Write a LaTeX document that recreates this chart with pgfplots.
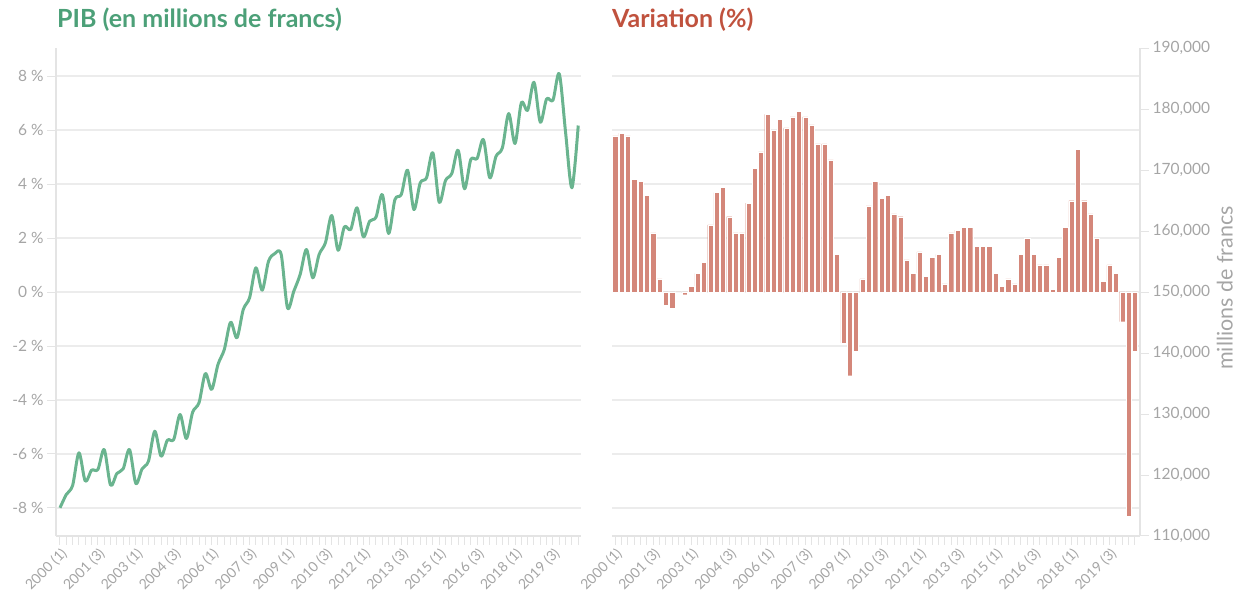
\documentclass[border=0pt]{standalone}
\usepackage{fontspec}
\setmainfont{Lato}
\usepackage{pgfplots}
\pgfplotsset{compat=1.18}
\usepackage{pgfplotstable}

\definecolor{linegreen}{RGB}{106,180,143}
\definecolor{titlegreen}{RGB}{76,160,120}
\definecolor{barred}{RGB}{212,135,122}
\definecolor{titlered}{RGB}{192,82,62}
\definecolor{txtgray}{RGB}{165,165,165}
\definecolor{gridgray}{RGB}{236,236,236}
\definecolor{axisgray}{RGB}{228,228,228}

\pgfplotstableread{
i F
0 114620
1 116800
2 118280
3 123640
4 118990
5 120790
6 120900
7 124180
8 118330
9 120250
10 121020
11 124180
12 118610
13 121020
14 122260
15 127180
16 123080
17 125710
18 125820
19 129920
20 125980
21 130330
22 131840
23 136640
24 134020
25 138120
26 140570
27 145050
28 142490
29 147130
30 149050
31 153970
32 150300
33 155050
34 156310
35 156150
36 147410
37 150130
38 152870
39 156970
40 152330
41 156150
42 158070
43 162540
44 156850
45 160690
46 160250
47 163800
48 159050
49 161610
50 162260
51 165980
52 159590
53 165160
54 165980
55 169970
56 163520
57 167900
58 168720
59 172820
60 164720
61 168280
62 169430
63 173250
64 166920
65 171720
66 171890
67 175000
68 168720
69 172260
70 173640
71 179260
72 174340
73 181020
74 179800
75 184390
76 177840
77 181670
78 181440
79 185770
80 176150
81 167080
82 177290
}\pibtable

\pgfplotstableread{
i v
0 5.78
1 5.88
2 5.78
3 4.18
4 4.09
5 3.58
6 2.19
7 0.49
8 -0.49
9 -0.59
10 0.0
11 -0.10
12 0.20
13 0.69
14 1.10
15 2.49
16 3.68
17 3.88
18 2.79
19 2.19
20 2.19
21 3.29
22 4.59
23 5.19
24 6.58
25 5.99
26 6.39
27 6.08
28 6.49
29 6.68
30 6.49
31 6.19
32 5.49
33 5.49
34 4.89
35 1.39
36 -1.88
37 -3.10
38 -2.19
39 0.49
40 3.19
41 4.09
42 3.48
43 3.58
44 2.89
45 2.79
46 1.19
47 0.69
48 1.49
49 0.59
50 1.29
51 1.39
52 0.30
53 2.19
54 2.29
55 2.39
56 2.39
57 1.69
58 1.69
59 1.69
60 0.69
61 0.20
62 0.49
63 0.30
64 1.39
65 1.99
66 1.39
67 1.00
68 1.00
69 0.10
70 1.29
71 2.39
72 3.38
73 5.28
74 3.38
75 2.89
76 1.99
77 0.39
78 1.00
79 0.69
80 -1.10
81 -8.30
82 -2.19
}\vartable

\pgfplotsset{
  panel/.style={
    scale only axis,
    height=488pt,
    anchor=south west,
    xtick={0,6,...,78},
    xticklabels={2000 (1),2001 (3),2003 (1),2004 (3),2006 (1),2007 (3),2009 (1),2010 (3),2012 (1),2013 (3),2015 (1),2016 (3),2018 (1),2019 (3)},
    minor xtick={0,1,...,82},
    x tick label style={rotate=45, anchor=north east, font=\fontsize{14}{14}\selectfont, text=txtgray, inner sep=1pt},
    y tick label style={font=\fontsize{15.5}{15.5}\selectfont, text=txtgray},
    tick align=outside,
    major tick length=9pt,
    minor tick length=9pt,
    every tick/.style={axisgray, line width=1pt},
    axis line style={axisgray, line width=1.5pt, -},
    ymajorgrids,
    grid style={gridgray, line width=2pt},
    scaled y ticks=false,
    clip=false,
  }
}

\begin{document}
\begin{tikzpicture}
\path (0pt,0pt) rectangle (1253pt,608pt);

% Left panel: PIB line
\begin{axis}[panel, at={(56pt,72pt)}, width=525pt,
  xmin=-0.63, xmax=82.44, ymin=110000, ymax=190000,
  axis x line*=bottom, axis y line*=left,
  ytick={114590.4,123442.8,132295.2,141147.6,150000,158852.4,167704.8,176557.2,185409.6},
  yticklabels={-8 \%,-6 \%,-4 \%,-2 \%,0 \%,2 \%,4 \%,6 \%,8 \%},
]
\addplot[linegreen, line width=3pt, smooth, tension=0.5, line join=round] table[x=i,y=F]{\pibtable};
\end{axis}

% Right panel: variation bars
\begin{axis}[panel, at={(612pt,72pt)}, width=528pt,
  xmin=-0.5, xmax=82.8, ymin=-9.037, ymax=9.037,
  axis x line*=bottom, axis y line*=right,
  ytick={-8,-6,...,8}, yticklabels={}, ytick style={draw=none},
]
\addplot[ybar, bar width=5.2pt, fill=barred, draw=white, line width=0.3pt] table[x=i,y=v]{\vartable};
\end{axis}

% Right axis in francs
\begin{axis}[scale only axis, height=488pt, width=528pt, anchor=south west, at={(612pt,72pt)},
  xmin=-0.5, xmax=82.8, ymin=110000, ymax=190000,
  hide x axis, axis y line*=right, scaled y ticks=false,
  ytick={110000,120000,...,190000},
  yticklabels={{110,000},{120,000},{130,000},{140,000},{150,000},{160,000},{170,000},{180,000},{190,000}},
  y tick label style={font=\fontsize{15.5}{15.5}\selectfont, text=txtgray},
  tick align=outside, major tick length=9pt,
  every tick/.style={axisgray, line width=1pt},
  axis line style={axisgray, line width=1.5pt, -},
  ylabel={millions de francs},
  ylabel style={font=\fontsize{21.5}{21.5}\selectfont, text=txtgray, xshift=4pt},
]
\end{axis}

\node[anchor=base west, inner sep=0pt, text=titlegreen, font=\fontsize{25}{25}\selectfont\bfseries] at (57pt,580pt) {PIB (en millions de francs)};
\node[anchor=base west, inner sep=0pt, text=titlered, font=\fontsize{25}{25}\selectfont\bfseries] at (612pt,580pt) {Variation (\%)};
\end{tikzpicture}
\end{document}
